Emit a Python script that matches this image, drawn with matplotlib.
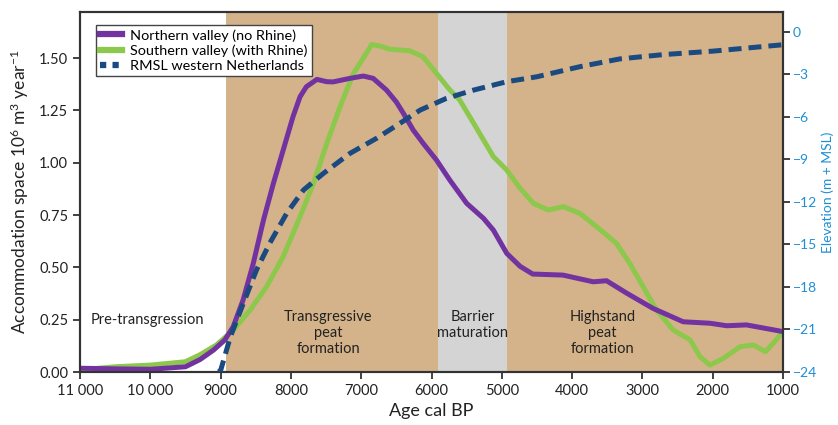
import matplotlib
matplotlib.use("Agg")
import matplotlib.pyplot as plt
from matplotlib.lines import Line2D

plt.rcParams['font.family'] = ['Lato', 'DejaVu Sans']
plt.rcParams['mathtext.fontset'] = 'custom'
plt.rcParams['mathtext.rm'] = 'Lato'
plt.rcParams['mathtext.it'] = 'Lato:italic'

# ---------------- data ----------------
north_age = [11000, 10500, 10000, 9500, 9290, 9100, 8940, 8820, 8680, 8535, 8390, 8250, 8110,
             7970, 7870, 7780, 7630, 7490, 7400, 7160, 6970, 6830, 6640, 6500, 6400, 6260,
             6120, 5930, 5740, 5500, 5260, 5120, 4930, 4740, 4560, 4130, 3700, 3510, 3220,
             2850, 2420, 2040, 1800, 1520, 1000]
north_val = [0.018, 0.015, 0.013, 0.025, 0.06, 0.105, 0.153, 0.217, 0.344, 0.519, 0.726, 0.90, 1.06,
             1.22, 1.315, 1.363, 1.398, 1.387, 1.386, 1.403, 1.414, 1.403, 1.347, 1.29, 1.236, 1.156,
             1.093, 1.013, 0.917, 0.806, 0.734, 0.678, 0.567, 0.505, 0.468, 0.463, 0.431, 0.436, 0.376,
             0.304, 0.24, 0.233, 0.221, 0.225, 0.193]

south_age = [11000, 10500, 10000, 9500, 9290, 9060, 8820, 8580, 8345, 8110, 7870, 7680, 7490,
             7300, 7110, 6970, 6850, 6730, 6590, 6310, 6120, 5930, 5740, 5600, 5400, 5120,
             4930, 4740, 4550, 4340, 4125, 3890, 3650, 3370, 3180, 2990, 2800, 2560, 2320,
             2180, 2040, 1850, 1610, 1420, 1250, 1140, 1000]
south_val = [0.01, 0.025, 0.033, 0.049, 0.083, 0.129, 0.20, 0.296, 0.408, 0.551, 0.742, 0.90, 1.092,
             1.268, 1.427, 1.50, 1.565, 1.557, 1.542, 1.535, 1.506, 1.427, 1.348, 1.30, 1.188, 1.029,
             0.965, 0.878, 0.806, 0.774, 0.79, 0.758, 0.694, 0.615, 0.519, 0.408, 0.296, 0.20, 0.153,
             0.073, 0.033, 0.065, 0.121, 0.129, 0.097, 0.137, 0.193]

rmsl_age = [9030, 9000, 8860, 8680, 8490, 8300, 8060, 7820, 7540, 7160, 6780, 6450, 6160,
            5790, 5400, 4930, 4500, 3890, 3320, 2710, 1990, 1000]
rmsl_elev = [-24.0, -23.9, -21.5, -19.2, -16.8, -14.9, -12.8, -11.15, -9.99, -8.57, -7.5, -6.45, -5.51,
             -4.69, -4.1, -3.51, -3.16, -2.45, -1.9, -1.6, -1.35, -0.9]

phases = [(8920, 5910, '#D5B38A'), (5910, 4930, '#D4D4D4'), (4930, 1000, '#D5B38A')]
phase_labels = ['Pre-transgression', 'Transgressive\npeat\nformation', 'Barrier\nmaturation',
                'Highstand\npeat\nformation']
phase_label_x = [10850, 7470, 5410, 3570]

x_ticks = [11000, 10000, 9000, 8000, 7000, 6000, 5000, 4000, 3000, 2000, 1000]
x_ticklabels = ['11 000', '10 000', '9000', '8000', '7000', '6000', '5000', '4000', '3000', '2000', '1000']
y_ticks = [0, 0.25, 0.5, 0.75, 1.0, 1.25, 1.5]
y2_ticks = [0, -3, -6, -9, -12, -15, -18, -21, -24]

# ---------------- style ----------------
purple = '#7232A0'
green = '#8CC84B'
blue = '#1B4A80'
rblue = '#1E8FD5'
axc = '#333333'

fig = plt.figure(figsize=(8.38, 4.25), dpi=100)
ax = fig.add_axes([80/838, 1-372/425, (783-80)/838, (372-12)/425])
ax2 = ax.twinx()

for a, b, c in phases:
    ax.axvspan(a, b, color=c, lw=0, zorder=0)

ax.plot(south_age, south_val, color=green, lw=3.6, solid_capstyle='butt', solid_joinstyle='round', zorder=3)
ax.plot(north_age, north_val, color=purple, lw=3.6, solid_capstyle='butt', solid_joinstyle='round', zorder=4)
ax2.plot(rmsl_age, rmsl_elev, color=blue, lw=3.6, dashes=(2.6, 1.4), dash_capstyle='butt', zorder=5)

ax.set_xlim(11000, 1000)
ax.set_ylim(0, 1.72)
ax2.set_ylim(-24, 1.41)

ax.set_xticks(x_ticks)
ax.set_xticklabels(x_ticklabels)
ax.set_yticks(y_ticks)
ax.set_yticklabels(['%.2f' % v for v in y_ticks])
ax2.set_yticks(y2_ticks)
ax2.set_yticklabels([str(v).replace('-', '\u2212') for v in y2_ticks])

ax.tick_params(axis='both', direction='out', length=5, width=1.3, color=axc, labelsize=10.5, labelcolor='#222222')
ax2.tick_params(axis='y', direction='out', length=5, width=1.3, color=axc, labelsize=10, labelcolor=rblue, pad=2)
for a in (ax, ax2):
    for s in a.spines.values():
        s.set_color(axc)
        s.set_linewidth(1.5)

ax.set_xlabel('Age cal BP', fontsize=13, color='#222222', labelpad=4)
ax.set_ylabel('Accommodation space 10$^{6}$ m$^{3}$ year$^{-1}$', fontsize=12.5, color='#222222', labelpad=6)
ax2.set_ylabel('Elevation (m + MSL)', fontsize=10, color=rblue, labelpad=3)

ax.set_zorder(ax2.get_zorder() - 1)
ax2.patch.set_visible(False)

ax.text(phase_label_x[0], 0.25, phase_labels[0], fontsize=10.5, color='#222222', ha='left', va='center')
for lab, xx in zip(phase_labels[1:], phase_label_x[1:]):
    ax.text(xx, 0.295, lab, fontsize=10.5, color='#222222', ha='center', va='top', linespacing=1.15)

handles = [Line2D([], [], color=purple, lw=4.5),
           Line2D([], [], color=green, lw=4.5),
           Line2D([], [], color=blue, lw=4.5, dashes=(1, 1))]
leg = ax2.legend(handles, ['Northern valley (no Rhine)', 'Southern valley (with Rhine)', 'RMSL western Netherlands'],
                 loc='upper left', bbox_to_anchor=(0.012, 0.985), fontsize=10.4, frameon=True, fancybox=False,
                 handlelength=1.5, handletextpad=0.6, borderpad=0.3, labelspacing=0.2, framealpha=1)
leg.get_frame().set_edgecolor('#444444')
leg.get_frame().set_linewidth(1.0)

fig.savefig('out.png', dpi=100)
